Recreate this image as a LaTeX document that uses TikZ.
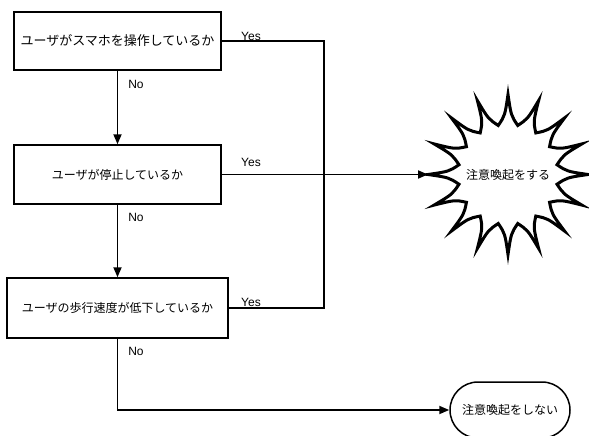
\documentclass[tikz,border=0pt]{standalone}
\usepackage{fontspec}
\setmainfont{Liberation Sans}
\newfontfamily\jp{Noto Sans CJK JP}
\usetikzlibrary{arrows.meta,shapes.misc,calc}
\tikzset{
  box/.style={draw, line width=1.5pt, fill=white, inner sep=0pt, font=\jp\fontsize{12}{14}\selectfont},
  conn/.style={line width=1.8pt},
  arr/.style={conn, -{Triangle[length=10pt,width=8pt]}},
  lbl/.style={inner sep=0pt, font=\fontsize{12}{14}\selectfont},
  term/.style={draw, line width=1.5pt, rounded rectangle, minimum width=120pt, minimum height=56pt, inner sep=0pt, font=\jp\fontsize{12}{14}\selectfont},
  burstlbl/.style={inner sep=0pt, font=\jp\fontsize{12}{14}\selectfont}
}
\begin{document}
\begin{tikzpicture}[x=1pt,y=-1pt]
\useasboundingbox (0,0) rectangle (589,436);
\clip (0,0) rectangle (589,436);
\node[box, minimum width=207pt, minimum height=58pt, font=\jp\fontsize{13}{15}\selectfont] (b1) at (117.5,41) {ユーザがスマホを操作しているか};
\node[box, minimum width=207pt, minimum height=59pt] (b2) at (117.5,174.5) {ユーザが停止しているか};
\node[box, minimum width=221pt, minimum height=60pt] (b3) at (117.5,308) {ユーザの歩行速度が低下しているか};
\node[burstlbl] (burst) at (508,174.5) {注意喚起をする};
\coordinate (bw) at (428,174.5);
\node[term] (t) at (510,410) {注意喚起をしない};
% starburst outline
\def\RO{80}\def\RI{50}
\draw[line width=3pt, line join=miter] (508,174.5) ++(0:\RO) 
  \foreach \i in {0,...,15} {
    .. controls ($(508,174.5)+({\i*22.5+3}:{\RI+(\RO-\RI)*0.3})$) .. ($(508,174.5)+({\i*22.5+11.25}:\RI)$)
    .. controls ($(508,174.5)+({\i*22.5+19.5}:{\RI+(\RO-\RI)*0.3})$) .. ($(508,174.5)+({(\i+1)*22.5}:\RO)$)
  } -- cycle;
\coordinate (j) at (324,174.5);
\draw[arr] (b1.south) -- (b2.north);
\draw[arr] (b2.south) -- (b3.north);
\draw[conn] (b1.east) -| (j);
\draw[conn] (b3.east) -| (j);
\draw[arr] (b2.east) -- (bw);
\draw[arr] (b3.south) |- (t.west);
\node[lbl] (y1) at (251,36) {Yes};
\node[lbl] (y2) at (251,162) {Yes};
\node[lbl] (y3) at (251,302.5) {Yes};
\node[lbl] (n1) at (136,84) {No};
\node[lbl] (n2) at (136,217.5) {No};
\node[lbl] (n3) at (136,351) {No};
\end{tikzpicture}
\end{document}
